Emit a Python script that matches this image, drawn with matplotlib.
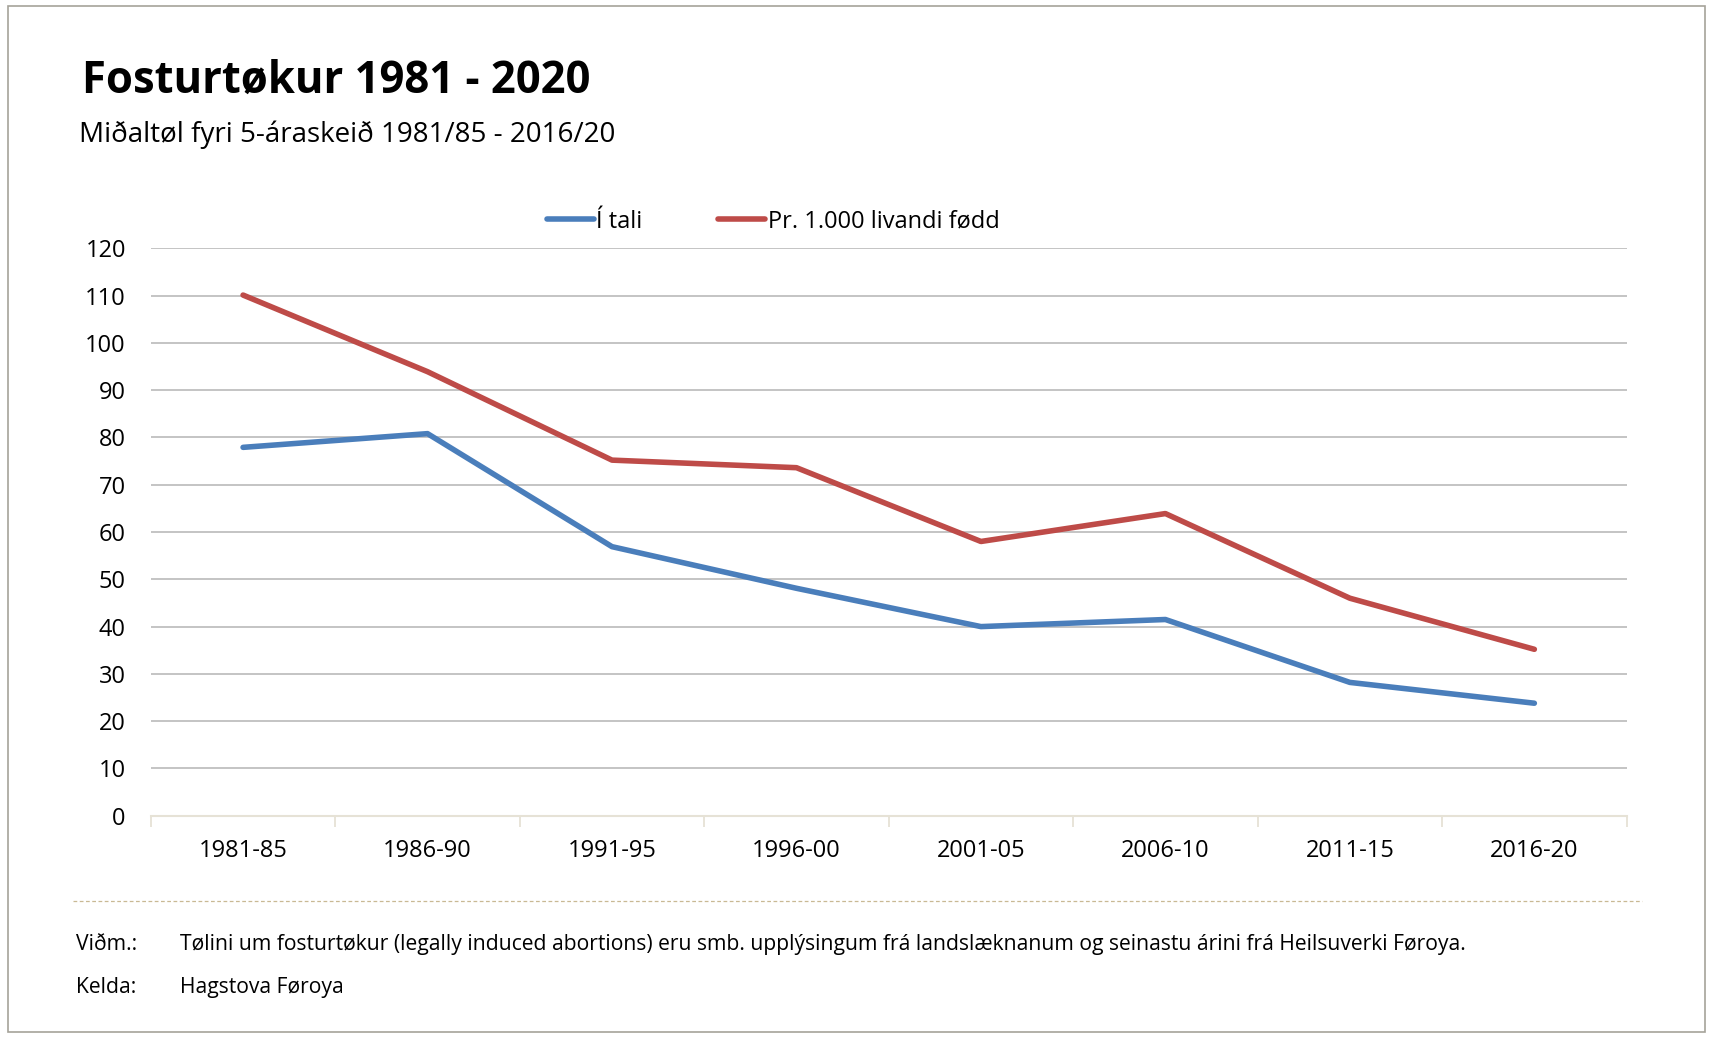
import numpy as np
import matplotlib.pyplot as plt
from matplotlib.patches import Rectangle
from matplotlib.lines import Line2D

plt.rcParams["font.family"] = ["Open Sans", "DejaVu Sans"]

# ==== DATA ====
periods = ["1981-85", "1986-90", "1991-95", "1996-00", "2001-05", "2006-10", "2011-15", "2016-20"]
i_tali = [77.9, 80.8, 56.9, 48.1, 40.0, 41.5, 28.2, 23.8]
pr_1000 = [110.1, 93.9, 75.2, 73.6, 58.0, 63.9, 46.0, 35.2]
yticks = list(range(0, 130, 10))

BLUE = "#4A7EBB"
RED = "#BE4B48"
LW = 4.0

fig = plt.figure(figsize=(17.14, 10.4), dpi=100)
fig.patch.set_facecolor("white")

# outer frame
fig.add_artist(Rectangle((0.0045, 0.008), 0.990, 0.986, transform=fig.transFigure,
                         fill=False, edgecolor="#a5a39a", lw=1.2))

ax = fig.add_axes([0.088, 0.2156, 0.861, 0.5457])
x = np.arange(len(periods))
ax.plot(x, i_tali, color=BLUE, lw=LW, solid_capstyle="round", label="Í tali", zorder=3)
ax.plot(x, pr_1000, color=RED, lw=LW, solid_capstyle="round", label="Pr. 1.000 livandi fødd", zorder=3)

ax.set_xlim(-0.5, len(periods) - 0.5)
ax.set_ylim(0, 120)
ax.set_yticks(yticks)
ax.set_yticklabels([str(v) for v in yticks], fontsize=17)
ax.yaxis.grid(True, color="#bfbfbf", lw=1.3)
ax.set_axisbelow(True)
ax.tick_params(axis="y", length=0, pad=18)

# category labels centred, ticks between categories
ax.set_xticks(x)
ax.set_xticklabels(periods, fontsize=17)
ax.tick_params(axis="x", which="major", length=0, pad=17)
ax.set_xticks(np.arange(-0.5, len(periods)), minor=True)
ax.tick_params(axis="x", which="minor", length=8, width=1.3, color="#e6e2d6")

for s in ["top", "right", "left"]:
    ax.spines[s].set_visible(False)
ax.spines["bottom"].set_color("#e6e2d6")
ax.spines["bottom"].set_linewidth(1.5)

# legend
handles = [Line2D([], [], color=BLUE, lw=LW, solid_capstyle="round"),
           Line2D([], [], color=RED, lw=LW, solid_capstyle="round")]
fig.legend(handles, ["Í tali", "Pr. 1.000 livandi fødd"], loc="center",
           bbox_to_anchor=(0.451, 0.787), ncols=2, frameon=False, fontsize=17,
           handlelength=2.0, handletextpad=0.1, columnspacing=3.2)

# titles
fig.text(0.0478, 0.9106, "Fosturtøkur 1981 - 2020", fontsize=31.4, fontweight="bold", va="baseline")
fig.text(0.046, 0.863, "Miðaltøl fyri 5-áraskeið 1981/85 - 2016/20", fontsize=20, va="baseline")

# separator
fig.add_artist(Line2D([0.0427, 0.958], [0.1335, 0.1335], transform=fig.transFigure,
                      color="#c9b994", lw=0.9, ls=(0, (3, 2))))

# footer
fig.text(0.0446, 0.0862, "Viðm.:", fontsize=15.2, va="baseline")
fig.text(0.1052, 0.0862, "Tølini um fosturtøkur (legally induced abortions) eru smb. upplýsingum frá "
         "landslæknanum og seinastu árini frá Heilsuverki Føroya.", fontsize=15.2, va="baseline")
fig.text(0.0446, 0.0452, "Kelda:", fontsize=15.2, va="baseline")
fig.text(0.1052, 0.0452, "Hagstova Føroya", fontsize=15.2, va="baseline")

fig.savefig("out.png", dpi=100)
